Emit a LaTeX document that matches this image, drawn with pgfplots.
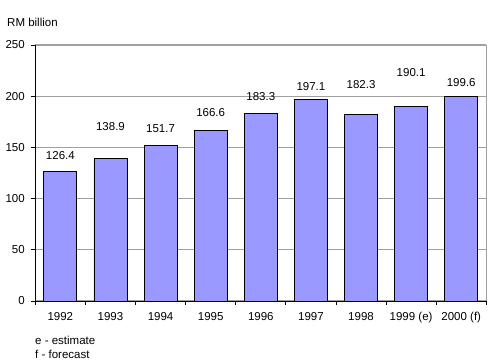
\documentclass[border=0pt]{standalone}
\usepackage{fontspec}
\setmainfont{Liberation Sans}
\usepackage{pgfplots}
\pgfplotsset{compat=1.18}
\definecolor{barfill}{HTML}{9999FF}
\definecolor{gridgray}{HTML}{A0A0A0}
\begin{document}
\fontsize{11.5bp}{13.8bp}\selectfont
\begin{tikzpicture}
\path[use as bounding box] (0,0) rectangle (500bp,361bp);
\begin{axis}[
  at={(35.3bp,60bp)}, anchor=south west,
  scale only axis, width=451bp, height=256bp,
  xmin=-0.5, xmax=8.5, ymin=0, ymax=250,
  ytick={0,50,...,250},
  xtick={0,...,8},
  xticklabels={1992,1993,1994,1995,1996,1997,1998,1999 (e),2000 (f)},
  minor xtick={-0.5,0.5,...,8.5},
  major x tick style={draw=none},
  minor x tick style={black, line width=0.8bp},
  y tick style={black, line width=0.8bp},
  major tick length=4bp, minor tick length=4bp,
  tick align=outside, xtick pos=bottom, ytick pos=left,
  ymajorgrids, major grid style={gridgray, line width=1.1bp},
  axis line style={draw=none},
  tick label style={font=\fontsize{11.5bp}{13.8bp}\selectfont},
  /pgf/number format/assume math mode=true,
  yticklabel style={xshift=-2.5bp},
  xticklabel style={yshift=-3bp},
  clip=false,
]
\addplot[ybar, bar width=0.66, fill=barfill, draw=black, line width=0.8bp] coordinates {
  (0,126.4) (1,138.9) (2,151.7) (3,166.6) (4,183.3) (5,197.1) (6,182.3) (7,190.1) (8,199.6)
};
\addplot[draw=none, mark=none, nodes near coords, point meta=explicit symbolic,
  every node near coord/.append style={anchor=center, font=\fontsize{11.5bp}{13.8bp}\selectfont}]
  table[meta=l] {
x y l
0 141.6 126.4
1 169.9 138.9
2 168.0 151.7
3 183.6 166.6
4 199.2 183.3
5 209.9 197.1
6 210.9 182.3
7 222.7 190.1
8 212.9 199.6
};
\draw[black, line width=0.8bp] (rel axis cs:0,1) -- (rel axis cs:0,0) -- (rel axis cs:1,0);
\draw[gridgray, line width=1.1bp] (rel axis cs:1,0) -- (rel axis cs:1,1);
\end{axis}
\node[anchor=west, inner sep=0pt] at (7bp,339bp) {RM billion};
\node[anchor=west, inner sep=0pt] at (35bp,21bp) {e - estimate};
\node[anchor=west, inner sep=0pt] at (35bp,7bp) {f - forecast};
\end{tikzpicture}
\end{document}
